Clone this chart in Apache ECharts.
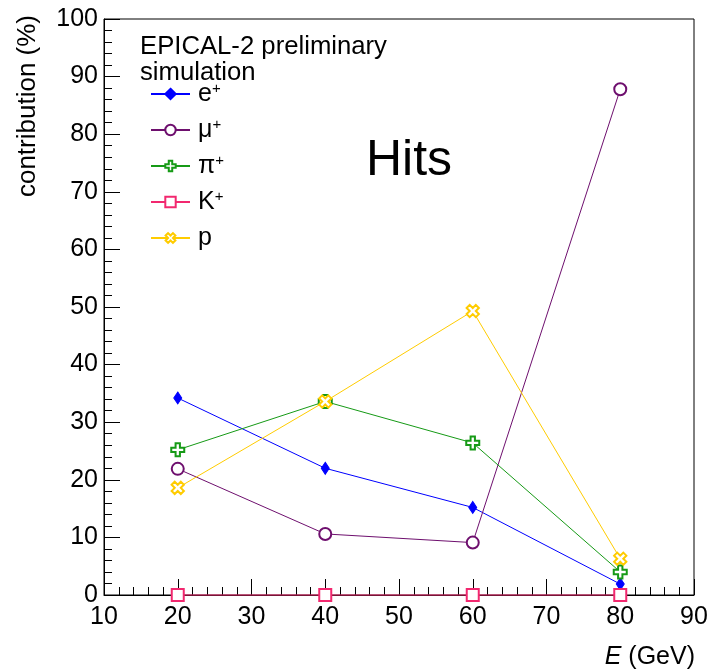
<!DOCTYPE html>
<html>
<head>
<meta charset="utf-8">
<script src="https://cdn.jsdelivr.net/npm/echarts@6/dist/echarts.min.js"></script>
<style>html,body{margin:0;padding:0;background:#fff;}#c{width:712px;height:670px;}</style>
</head>
<body>
<div id="c"></div>
<script>
var energies = [20, 40, 60, 80];
var ePlus  = [34.2, 22.0, 15.2, 1.9];
var muPlus = [21.9, 10.6, 9.1, 87.8];
var piPlus = [25.2, 33.6, 26.4, 4.0];
var kPlus  = [0, 0, 0, 0];
var proton = [18.6, 33.6, 49.3, 6.3];
var seriesNames = ['e+', 'μ+', 'π+', 'K+', 'p'];
var xTicks = [10, 20, 30, 40, 50, 60, 70, 80, 90];
var yTicks = [0, 10, 20, 30, 40, 50, 60, 70, 80, 90, 100];

var FONT = '"Liberation Sans", Arial, sans-serif';
var crossPath = 'path://M4,0 H8 V4 H12 V8 H8 V12 H4 V8 H0 V4 H4 Z';

function pairs(vals) { return energies.map(function (e, i) { return [e, vals[i]]; }); }

var styles = [
  { data: ePlus,  color: '#0000ff', symbol: 'diamond', size: [8, 12], fill: '#0000ff', bw: 1 },
  { data: muPlus, color: '#6e0f6e', symbol: 'circle', size: 12, fill: '#ffffff', bw: 2 },
  { data: piPlus, color: '#169a16', symbol: crossPath, size: 13, fill: '#ffffff', bw: 2 },
  { data: kPlus,  color: '#f2286f', symbol: 'rect', size: 12, fill: '#ffffff', bw: 2 },
  { data: proton, color: '#ffcc00', symbol: crossPath, size: 13, fill: '#ffffff', bw: 2, rot: 45 }
];

var series = styles.map(function (s, i) {
  return {
    name: seriesNames[i],
    type: 'line',
    data: pairs(s.data),
    symbol: s.symbol,
    symbolSize: s.size,
    symbolRotate: s.rot || 0,
    clip: false,
    lineStyle: { color: s.color, width: 1 },
    itemStyle: { color: s.fill, borderColor: s.color, borderWidth: s.bw },
    emphasis: { disabled: true },
    z: 2 + i
  };
});

var chart = echarts.init(document.getElementById('c'), null, { renderer: 'canvas' });
chart.setOption({
  animation: false,
  backgroundColor: '#ffffff',
  grid: { left: 104, right: 18, top: 19, bottom: 75, show: true, borderColor: '#000', borderWidth: 1, backgroundColor: 'transparent' },
  xAxis: {
    type: 'value', min: xTicks[0], max: xTicks[xTicks.length - 1], interval: 10,
    axisLine: { show: true, lineStyle: { color: '#000', width: 1 } },
    axisTick: { show: true, inside: true, length: 16, lineStyle: { color: '#000' } },
    minorTick: { show: true, splitNumber: 5, length: 8, lineStyle: { color: '#000' } },
    splitLine: { show: false },
    axisLabel: { color: '#000', fontSize: 25, fontFamily: FONT, margin: 10 }
  },
  yAxis: {
    type: 'value', min: yTicks[0], max: yTicks[yTicks.length - 1], interval: 10,
    axisLine: { show: true, lineStyle: { color: '#000', width: 1 } },
    axisTick: { show: true, inside: true, length: 16, lineStyle: { color: '#000' } },
    minorTick: { show: true, splitNumber: 5, length: 8, lineStyle: { color: '#000' } },
    splitLine: { show: false },
    axisLabel: { color: '#000', fontSize: 25, fontFamily: FONT, margin: 6 }
  },
  legend: {
    orient: 'vertical', left: 150, top: 81, padding: 0,
    itemWidth: 39, itemHeight: 13, itemGap: 10,
    data: seriesNames,
    selectedMode: false,
    formatter: function (n) {
      return n.slice(-1) === '+' ? n.slice(0, -1) + '{s|+}' : n;
    },
    textStyle: {
      color: '#000', fontSize: 25, fontFamily: FONT, lineHeight: 26, padding: [0, 0, 0, 3],
      rich: { s: { fontSize: 15, fontFamily: FONT, verticalAlign: 'top', lineHeight: 14 } }
    }
  },
  graphic: [
    { type: 'text', left: 140, top: 34, style: { text: 'EPICAL-2 preliminary\nsimulation', font: '25.7px ' + FONT, fill: '#000', lineHeight: 26 } },
    { type: 'text', left: 366, top: 136, style: { text: 'Hits', font: '50px ' + FONT, fill: '#000' } },
    { type: 'text', x: 28, y: 15, rotation: Math.PI / 2, style: { text: 'contribution (%)', font: '26px ' + FONT, fill: '#000', align: 'right', verticalAlign: 'middle' } },
    { type: 'text', x: 695, y: 657, style: { text: '{i|E} (GeV)', font: '25px ' + FONT, fill: '#000', align: 'right', verticalAlign: 'middle', rich: { i: { font: 'italic 25px ' + FONT } } } }
  ],
  series: series
});
</script>
</body>
</html>
